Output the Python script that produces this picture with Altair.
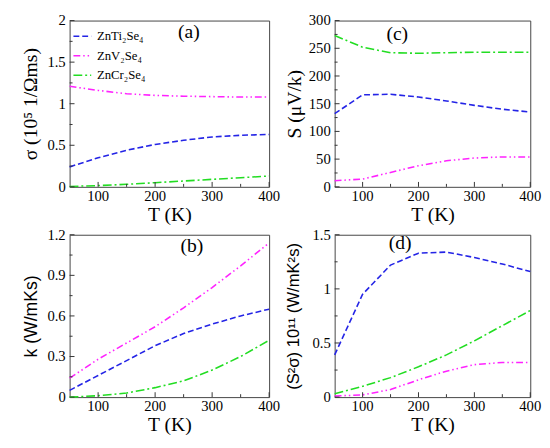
import altair as alt
import pandas as pd

T = [50, 100, 150, 200, 250, 300, 350, 400]
materials = ["ZnTi₂Se₄", "ZnV₂Se₄", "ZnCr₂Se₄"]

# (a) electrical conductivity sigma (10^5 1/Ohm m s)
sigma_ti = [0.24, 0.35, 0.44, 0.51, 0.56, 0.60, 0.62, 0.63]
sigma_v = [1.21, 1.16, 1.12, 1.10, 1.09, 1.085, 1.08, 1.08]
sigma_cr = [0.005, 0.015, 0.03, 0.05, 0.07, 0.09, 0.11, 0.13]

# (c) Seebeck coefficient S (uV/K)
s_ti = [132, 166, 167, 162, 155, 147, 140, 135]
s_v = [11, 14, 26, 38, 47, 52, 54, 54]
s_cr = [273, 252, 242, 241, 242, 243, 243, 243]

# (b) thermal conductivity k (W/mKs)
k_ti = [0.05, 0.16, 0.27, 0.38, 0.47, 0.54, 0.60, 0.65]
k_v = [0.14, 0.28, 0.40, 0.52, 0.66, 0.81, 0.97, 1.14]
k_cr = [0.0, 0.01, 0.03, 0.07, 0.12, 0.20, 0.30, 0.42]

# (d) power factor (S^2 sigma) 10^11
pf_ti = [0.39, 0.95, 1.22, 1.33, 1.34, 1.29, 1.23, 1.16]
pf_v = [0.01, 0.02, 0.07, 0.16, 0.24, 0.30, 0.32, 0.32]
pf_cr = [0.03, 0.10, 0.18, 0.28, 0.39, 0.52, 0.66, 0.80]

x_major = [100, 200, 300, 400]
x_minor = [150, 250, 350]

colors = ["#2424e6", "#ff22ff", "#22dd22"]
dashes = [[6, 3], [7, 3, 1.5, 3, 1.5, 3], [9, 3, 2, 3]]

SERIF = "Liberation Serif, Times New Roman, serif"
SANS = "Liberation Sans, Arial, sans-serif"


def long_df(ti, v, cr):
    rows = []
    for name, vals in zip(materials, [ti, v, cr]):
        for t, y in zip(T, vals):
            rows.append({"T": t, "mat": name, "val": y})
    return pd.DataFrame(rows)


def panel(df, ymax, ymajor, yminor, ytitle, ytitle_font, ytsize, tpad, label,
          lx, ly, w, h, legend=False):
    xs = alt.Scale(domain=[50, 400], nice=False, zero=False)
    ys = alt.Scale(domain=[0, ymax], nice=False)
    xax = alt.Axis(values=x_major, title="T (K)", labels=False,
                   titleFont=SERIF, titleFontSize=20, titleFontWeight="normal",
                   titlePadding=18)
    yax = alt.Axis(values=ymajor, title=ytitle, labels=False,
                   titleFont=ytitle_font, titleFontSize=ytsize,
                   titleFontWeight="normal", titlePadding=tpad)
    if legend:
        leg = alt.Legend(title=None, orient="none", legendX=3, legendY=6,
                         symbolType="stroke", symbolSize=330,
                         symbolStrokeWidth=1.6, labelFont=SERIF,
                         labelFontSize=13, rowPadding=3, labelOffset=5)
    else:
        leg = None
    lines = alt.Chart(df).mark_line(strokeWidth=1.6).encode(
        x=alt.X("T:Q", scale=xs, axis=xax),
        y=alt.Y("val:Q", scale=ys, axis=yax),
        color=alt.Color("mat:N", scale=alt.Scale(domain=materials, range=colors),
                        legend=leg),
        strokeDash=alt.StrokeDash("mat:N", scale=alt.Scale(domain=materials, range=dashes),
                                  legend=leg),
    )
    xmaj = alt.Chart(pd.DataFrame({"T": x_major})).mark_rule(color="#333").encode(
        x=alt.X("T:Q", scale=xs, axis=xax), y=alt.value(h), y2=alt.value(h - 5))
    xmin = alt.Chart(pd.DataFrame({"T": x_minor})).mark_rule(color="#333").encode(
        x=alt.X("T:Q", scale=xs, axis=xax), y=alt.value(h), y2=alt.value(h - 3))
    ymaj = alt.Chart(pd.DataFrame({"val": ymajor})).mark_rule(color="#333").encode(
        y=alt.Y("val:Q", scale=ys, axis=yax), x=alt.value(0), x2=alt.value(5))
    ymin = alt.Chart(pd.DataFrame({"val": yminor})).mark_rule(color="#333").encode(
        y=alt.Y("val:Q", scale=ys, axis=yax), x=alt.value(0), x2=alt.value(3))
    xlab = alt.Chart(pd.DataFrame({"T": x_major})).mark_text(
        font=SERIF, fontSize=15, baseline="top", align="center", color="black").encode(
        x=alt.X("T:Q", scale=xs, axis=xax), y=alt.value(h + 2),
        text=alt.Text("T:Q", format="~r"))
    ylab = alt.Chart(pd.DataFrame({"val": ymajor})).mark_text(
        font=SERIF, fontSize=15, baseline="middle", align="right", color="black").encode(
        y=alt.Y("val:Q", scale=ys, axis=yax), x=alt.value(-4),
        text=alt.Text("val:Q", format="~r"))
    txt = alt.Chart(pd.DataFrame({"t": [label]})).mark_text(
        font=SERIF, fontSize=20, baseline="middle", align="center").encode(
        text="t:N", x=alt.value(lx), y=alt.value(ly))
    return alt.layer(lines, xmaj, xmin, ymaj, ymin, xlab, ylab, txt).properties(
        width=w, height=h)


pa = panel(long_df(sigma_ti, sigma_v, sigma_cr), 2, [0, 0.5, 1, 1.5, 2],
           [0.25, 0.75, 1.25, 1.75], "σ (10⁵ 1/Ωms)", SERIF, 20, 30, "(a)",
           122, 12, 204, 170, legend=True)
pc = panel(long_df(s_ti, s_v, s_cr), 300, [0, 50, 100, 150, 200, 250, 300],
           [25, 75, 125, 175, 225, 275], "S (μV/k)", SERIF, 20, 31, "(c)",
           64, 14, 200, 170)
pb = panel(long_df(k_ti, k_v, k_cr), 1.2, [0, 0.3, 0.6, 0.9, 1.2],
           [0.15, 0.45, 0.75, 1.05], "k (W/mKs)", SANS, 18, 30, "(b)",
           125, 12, 204, 166)
pd_ = panel(long_df(pf_ti, pf_v, pf_cr), 1.5, [0, 0.5, 1, 1.5],
            [0.25, 0.75, 1.25], "(S²σ) 10¹¹ (W/mK²s)", SANS, 17, 33, "(d)",
            67, 9, 200, 166)

chart = alt.concat(pa, pc, pb, pd_, columns=2,
                   spacing=alt.RowColnumber(row=2, column=3)).resolve_scale(
    color="independent", strokeDash="independent"
).properties(padding={"left": 12, "top": 0, "right": 0, "bottom": 0}
).configure(
    background="white",
    font=SERIF,
    view=alt.ViewConfig(stroke="#444", strokeWidth=1),
    axis=alt.AxisConfig(ticks=False, domain=False, grid=False,
                        titleColor="black", titleFont=SERIF),
    style={"guide-title": {"font": SERIF, "fontSize": 20, "fontWeight": "normal"}}
)

chart.save("out.html", embed_options={"renderer": "svg", "actions": False})
